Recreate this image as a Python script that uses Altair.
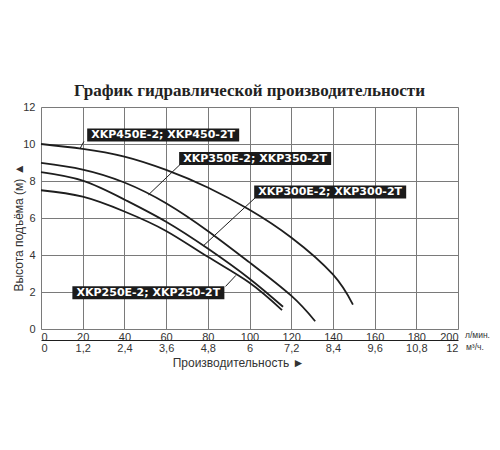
import altair as alt
import pandas as pd

# ---- data (Q in l/min, H in m) ----
q450 = [0, 20, 40, 60, 80, 100, 120, 140, 149.6]
h450 = [10.0, 9.74, 9.32, 8.6, 7.65, 6.45, 4.95, 2.95, 1.32]
q350 = [0, 20, 40, 60, 80, 100, 120, 131.5]
h350 = [8.98, 8.62, 7.92, 6.8, 5.3, 3.6, 1.8, 0.42]
q300 = [0, 20, 40, 60, 80, 100, 116.1]
h300 = [8.48, 8.02, 7.0, 5.8, 4.35, 2.72, 1.2]
q250 = [0, 20, 40, 60, 80, 100, 115.6]
h250 = [7.5, 7.15, 6.35, 5.3, 3.9, 2.5, 1.02]
series = ["XKP450", "XKP350", "XKP300", "XKP250"]

labels = ["XKP450E-2; XKP450-2T", "XKP350E-2; XKP350-2T",
          "XKP300E-2; XKP300-2T", "XKP250E-2; XKP250-2T"]
label_q = [58.6, 102.7, 138.7, 51.5]
label_h = [10.49, 9.21, 7.41, 1.96]
ptr_q1 = [20.6, 66.7, 102.7, 88.5]
ptr_h1 = [10.14, 8.89, 7.09, 2.3]
ptr_q2 = [18.7, 51.5, 77.9, 93.5]
ptr_h2 = [9.75, 7.25, 4.5, 2.9]

lmin_ticks = [0, 20, 40, 60, 80, 100, 120, 140, 160, 180, 200]
m3h_ticks = [0, 1.2, 2.4, 3.6, 4.8, 6, 7.2, 8.4, 9.6, 10.8, 12]
h_ticks = [0, 2, 4, 6, 8, 10, 12]

title_text = "График гидравлической производительности"
y_title = "Высота подъёма (м) ▲"
x_title = "Производительность ►"
unit_lmin = "л/мин."
unit_m3h = "м³/ч."

W, H = 417, 222
INK = "#1e1e1e"
TXT = "#333333"

rows = []
for name, qs, hs in zip(series, [q450, q350, q300, q250], [h450, h350, h300, h250]):
    for q, h in zip(qs, hs):
        rows.append({"series": name, "q": q, "h": h})
curves = pd.DataFrame(rows)
lab = pd.DataFrame({"label": labels, "lq": label_q, "lh": label_h})
ptr = pd.DataFrame({"q1": ptr_q1, "h1": ptr_h1, "q2": ptr_q2, "h2": ptr_h2})

xscale = alt.Scale(domain=[0, 200], nice=False)
yscale = alt.Scale(domain=[0, 12], nice=False)

x_axis = alt.Axis(values=lmin_ticks, grid=True, gridColor="#7a7a7a", gridWidth=1,
                  domain=False, ticks=False, labelPadding=2, labelFontSize=11,
                  labelColor=TXT, labelFont="Liberation Sans", title=None)
y_axis = alt.Axis(values=h_ticks, grid=True, gridColor="#7a7a7a", gridWidth=1,
                  domain=False, ticks=False, labelPadding=6, labelFontSize=11,
                  labelColor=TXT, labelFont="Liberation Sans", title=y_title,
                  titleFont="Liberation Sans", titleFontSize=12, titleFontWeight="normal",
                  titleColor=TXT, titleX=-23, titleY=120, titleAngle=270,
                  titleAlign="center", titleBaseline="middle")


def X(field):
    return alt.X(field, scale=xscale, axis=x_axis)


def Y(field):
    return alt.Y(field, scale=yscale, axis=y_axis)


lines = alt.Chart(curves).mark_line(color=INK, strokeWidth=1.8, interpolate="natural").encode(
    x=X("q:Q"), y=Y("h:Q"), detail="series:N",
)

pointers = alt.Chart(ptr).mark_rule(color=INK, strokeWidth=1).encode(
    x=X("q1:Q"), y=Y("h1:Q"), x2="q2:Q", y2="h2:Q",
)

boxes = alt.Chart(lab).mark_rect(color="#1b1b1b", width=152, height=13).encode(
    x=X("lq:Q"), y=Y("lh:Q"),
)

texts = alt.Chart(lab).mark_text(font="DejaVu Sans", fontWeight="bold", fontSize=11,
                                 color="white", baseline="middle", dy=0.5).encode(
    x=X("lq:Q"), y=Y("lh:Q"), text="label:N",
)

unit_a = alt.Chart(pd.DataFrame({"t": [unit_lmin]})).mark_text(
    align="left", baseline="middle", fontSize=8.5, font="Liberation Sans", color=TXT, dx=7
).encode(x=alt.datum(200, scale=xscale, axis=x_axis), y=alt.value(H + 6), text="t:N")

main = alt.layer(lines, pointers, boxes, texts, unit_a)

m3 = pd.DataFrame({"m3h": [0, 12]})
m3scale = alt.Scale(domain=[0, 12], nice=False)
x2_axis = alt.Axis(orient="bottom", offset=11, values=m3h_ticks, grid=False,
                   domain=True, domainColor=INK, domainWidth=1, ticks=False,
                   labelPadding=2, labelFontSize=11, labelColor=TXT, labelFont="Liberation Sans",
                   labelExpr="datum.value % 1 == 0 ? format(datum.value, 'd') : replace(format(datum.value, '.1f'), '.', ',')",
                   title=x_title, titleFont="Liberation Sans", titleFontSize=12,
                   titleFontWeight="normal", titleColor=TXT, titleX=197, titleY=22,
                   titleAlign="center", titleBaseline="middle")
m3_pts = alt.Chart(m3).mark_point(opacity=0).encode(
    x=alt.X("m3h:Q", scale=m3scale, axis=x2_axis)
)
unit_b = alt.Chart(pd.DataFrame({"t": [unit_m3h]})).mark_text(
    align="left", baseline="middle", fontSize=8.5, font="Liberation Sans", color=TXT, dx=8
).encode(x=alt.datum(12, scale=m3scale, axis=x2_axis), y=alt.value(H + 18), text="t:N")
second = alt.layer(m3_pts, unit_b)

chart = alt.layer(main, second).resolve_scale(x="independent").properties(
    width=W, height=H,
    title=alt.TitleParams(title_text, font="Liberation Serif", fontSize=17,
                          fontWeight="bold", color="#222222", anchor="middle", offset=1),
    autosize=alt.AutoSizeParams(type="none"),
    padding={"left": 33, "top": 99, "right": 34, "bottom": 60},
).configure_view(stroke="#111111", strokeWidth=1.3).configure(background="white")

chart.save("out.html", embed_options={"renderer": "svg", "actions": False})
